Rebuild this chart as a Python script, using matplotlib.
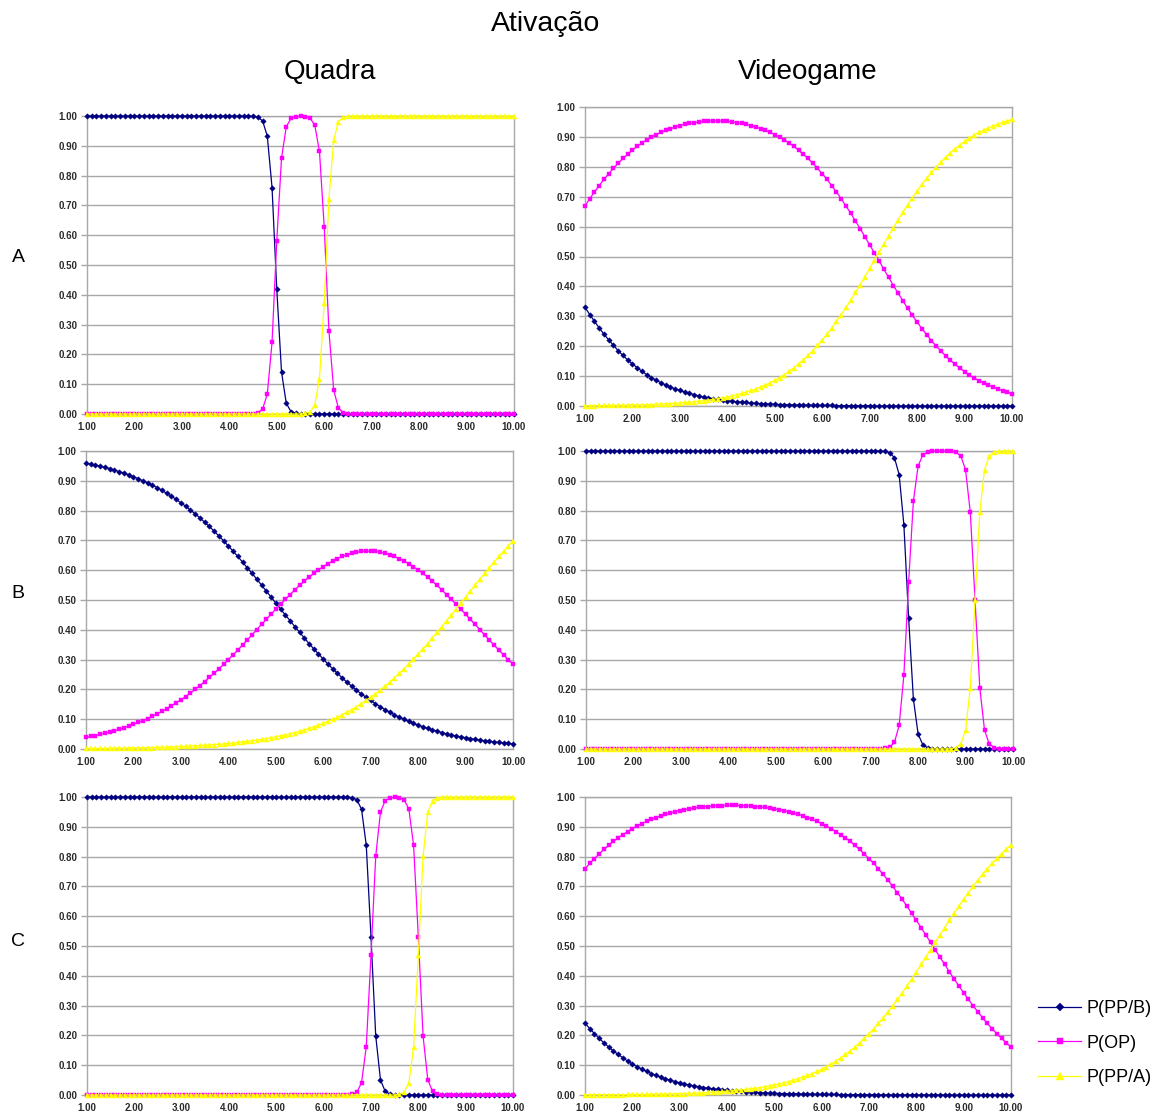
import matplotlib.pyplot as plt

plt.rcParams['font.family'] = ['Liberation Sans', 'DejaVu Sans']

# x categories (step 0.1)
x_vals = [1.0, 1.1, 1.2, 1.3, 1.4, 1.5, 1.6, 1.7, 1.8, 1.9,
          2.0, 2.1, 2.2, 2.3, 2.4, 2.5, 2.6, 2.7, 2.8, 2.9,
          3.0, 3.1, 3.2, 3.3, 3.4, 3.5, 3.6, 3.7, 3.8, 3.9,
          4.0, 4.1, 4.2, 4.3, 4.4, 4.5, 4.6, 4.7, 4.8, 4.9,
          5.0, 5.1, 5.2, 5.3, 5.4, 5.5, 5.6, 5.7, 5.8, 5.9,
          6.0, 6.1, 6.2, 6.3, 6.4, 6.5, 6.6, 6.7, 6.8, 6.9,
          7.0, 7.1, 7.2, 7.3, 7.4, 7.5, 7.6, 7.7, 7.8, 7.9,
          8.0, 8.1, 8.2, 8.3, 8.4, 8.5, 8.6, 8.7, 8.8, 8.9,
          9.0, 9.1, 9.2, 9.3, 9.4, 9.5, 9.6, 9.7, 9.8, 9.9,
          10.0]

x_ticks = [1, 2, 3, 4, 5, 6, 7, 8, 9, 10]
x_ticklabels = ['1.00', '2.00', '3.00', '4.00', '5.00', '6.00', '7.00', '8.00', '9.00', '10.00']
y_ticks = [0.0, 0.1, 0.2, 0.3, 0.4, 0.5, 0.6, 0.7, 0.8, 0.9, 1.0]
y_ticklabels = ['0.00', '0.10', '0.20', '0.30', '0.40', '0.50', '0.60', '0.70', '0.80', '0.90', '1.00']

series_names = ['P(PP/B)', 'P(OP)', 'P(PP/A)']
row_names = ['A', 'B', 'C']
col_names = ['Quadra', 'Videogame']

# ---- A / Quadra
aq_b = [1.0, 1.0, 1.0, 1.0, 1.0, 1.0, 1.0, 1.0, 1.0, 1.0,
        1.0, 1.0, 1.0, 1.0, 1.0, 1.0, 1.0, 1.0, 1.0, 1.0,
        1.0, 1.0, 1.0, 1.0, 1.0, 1.0, 1.0, 1.0, 1.0, 1.0,
        1.0, 1.0, 1.0, 1.0, 1.0, 0.999, 0.996, 0.984, 0.933, 0.760,
        0.418, 0.141, 0.036, 0.008, 0.002, 0.0, 0.0, 0.0, 0.0, 0.0,
        0.0, 0.0, 0.0, 0.0, 0.0, 0.0, 0.0, 0.0, 0.0, 0.0,
        0.0, 0.0, 0.0, 0.0, 0.0, 0.0, 0.0, 0.0, 0.0, 0.0,
        0.0, 0.0, 0.0, 0.0, 0.0, 0.0, 0.0, 0.0, 0.0, 0.0,
        0.0, 0.0, 0.0, 0.0, 0.0, 0.0, 0.0, 0.0, 0.0, 0.0,
        0.0]
aq_op = [0.0, 0.0, 0.0, 0.0, 0.0, 0.0, 0.0, 0.0, 0.0, 0.0,
         0.0, 0.0, 0.0, 0.0, 0.0, 0.0, 0.0, 0.0, 0.0, 0.0,
         0.0, 0.0, 0.0, 0.0, 0.0, 0.0, 0.0, 0.0, 0.0, 0.0,
         0.0, 0.0, 0.0, 0.0, 0.0, 0.001, 0.004, 0.016, 0.067, 0.240,
         0.582, 0.859, 0.964, 0.992, 0.998, 0.999, 0.998, 0.993, 0.970, 0.881,
         0.627, 0.277, 0.080, 0.020, 0.005, 0.001, 0.0, 0.0, 0.0, 0.0,
         0.0, 0.0, 0.0, 0.0, 0.0, 0.0, 0.0, 0.0, 0.0, 0.0,
         0.0, 0.0, 0.0, 0.0, 0.0, 0.0, 0.0, 0.0, 0.0, 0.0,
         0.0, 0.0, 0.0, 0.0, 0.0, 0.0, 0.0, 0.0, 0.0, 0.0,
         0.0]
aq_a = [0.0, 0.0, 0.0, 0.0, 0.0, 0.0, 0.0, 0.0, 0.0, 0.0,
        0.0, 0.0, 0.0, 0.0, 0.0, 0.0, 0.0, 0.0, 0.0, 0.0,
        0.0, 0.0, 0.0, 0.0, 0.0, 0.0, 0.0, 0.0, 0.0, 0.0,
        0.0, 0.0, 0.0, 0.0, 0.0, 0.0, 0.0, 0.0, 0.0, 0.0,
        0.0, 0.0, 0.0, 0.0, 0.0, 0.0, 0.002, 0.007, 0.030, 0.119,
        0.373, 0.723, 0.920, 0.981, 0.996, 0.999, 1.0, 1.0, 1.0, 1.0,
        1.0, 1.0, 1.0, 1.0, 1.0, 1.0, 1.0, 1.0, 1.0, 1.0,
        1.0, 1.0, 1.0, 1.0, 1.0, 1.0, 1.0, 1.0, 1.0, 1.0,
        1.0, 1.0, 1.0, 1.0, 1.0, 1.0, 1.0, 1.0, 1.0, 1.0,
        1.0]

# ---- A / Videogame
av_b = [0.330, 0.306, 0.283, 0.261, 0.240, 0.221, 0.203, 0.185, 0.169, 0.154,
        0.141, 0.128, 0.116, 0.105, 0.095, 0.086, 0.078, 0.070, 0.064, 0.057,
        0.052, 0.047, 0.042, 0.038, 0.034, 0.030, 0.027, 0.025, 0.022, 0.020,
        0.018, 0.016, 0.014, 0.013, 0.012, 0.010, 0.009, 0.008, 0.007, 0.007,
        0.006, 0.005, 0.005, 0.004, 0.004, 0.003, 0.003, 0.003, 0.002, 0.002,
        0.002, 0.002, 0.002, 0.001, 0.001, 0.001, 0.001, 0.001, 0.001, 0.001,
        0.001, 0.0, 0.0, 0.0, 0.0, 0.0, 0.0, 0.0, 0.0, 0.0,
        0.0, 0.0, 0.0, 0.0, 0.0, 0.0, 0.0, 0.0, 0.0, 0.0,
        0.0, 0.0, 0.0, 0.0, 0.0, 0.0, 0.0, 0.0, 0.0, 0.0,
        0.0]
av_op = [0.669, 0.693, 0.716, 0.737, 0.758, 0.777, 0.795, 0.812, 0.828, 0.842,
         0.856, 0.868, 0.880, 0.890, 0.899, 0.908, 0.915, 0.922, 0.928, 0.933,
         0.938, 0.942, 0.945, 0.948, 0.950, 0.952, 0.953, 0.953, 0.953, 0.953,
         0.952, 0.950, 0.948, 0.945, 0.942, 0.938, 0.933, 0.928, 0.922, 0.915,
         0.908, 0.899, 0.890, 0.880, 0.868, 0.856, 0.842, 0.828, 0.812, 0.795,
         0.777, 0.758, 0.737, 0.716, 0.693, 0.669, 0.645, 0.619, 0.593, 0.566,
         0.539, 0.512, 0.485, 0.457, 0.430, 0.403, 0.377, 0.352, 0.327, 0.303,
         0.281, 0.259, 0.239, 0.219, 0.201, 0.184, 0.168, 0.153, 0.139, 0.127,
         0.115, 0.104, 0.094, 0.085, 0.077, 0.070, 0.063, 0.057, 0.051, 0.046,
         0.041]
av_a = [0.001, 0.001, 0.001, 0.002, 0.002, 0.002, 0.002, 0.003, 0.003, 0.003,
        0.004, 0.004, 0.004, 0.005, 0.005, 0.006, 0.007, 0.008, 0.008, 0.009,
        0.010, 0.012, 0.013, 0.014, 0.016, 0.018, 0.020, 0.022, 0.025, 0.027,
        0.030, 0.034, 0.038, 0.042, 0.047, 0.052, 0.057, 0.064, 0.070, 0.078,
        0.086, 0.095, 0.105, 0.116, 0.128, 0.141, 0.154, 0.169, 0.185, 0.203,
        0.221, 0.240, 0.261, 0.283, 0.306, 0.330, 0.354, 0.380, 0.406, 0.433,
        0.460, 0.488, 0.515, 0.542, 0.570, 0.596, 0.623, 0.648, 0.673, 0.696,
        0.719, 0.741, 0.761, 0.781, 0.799, 0.816, 0.832, 0.847, 0.861, 0.873,
        0.885, 0.896, 0.906, 0.915, 0.923, 0.930, 0.937, 0.943, 0.949, 0.954,
        0.959]

# ---- B / Quadra
bq_b = [0.959, 0.956, 0.953, 0.949, 0.945, 0.941, 0.936, 0.931, 0.926, 0.920,
        0.914, 0.907, 0.900, 0.893, 0.885, 0.877, 0.868, 0.858, 0.848, 0.838,
        0.826, 0.815, 0.802, 0.789, 0.776, 0.761, 0.747, 0.731, 0.715, 0.699,
        0.681, 0.664, 0.646, 0.627, 0.608, 0.589, 0.570, 0.550, 0.530, 0.510,
        0.490, 0.470, 0.450, 0.431, 0.411, 0.392, 0.373, 0.354, 0.336, 0.319,
        0.302, 0.285, 0.269, 0.254, 0.239, 0.224, 0.211, 0.198, 0.185, 0.174,
        0.163, 0.152, 0.142, 0.132, 0.124, 0.115, 0.107, 0.100, 0.093, 0.086,
        0.080, 0.075, 0.069, 0.064, 0.060, 0.055, 0.051, 0.047, 0.044, 0.041,
        0.038, 0.035, 0.032, 0.030, 0.028, 0.026, 0.024, 0.022, 0.020, 0.019,
        0.017]
bq_op = [0.039, 0.042, 0.045, 0.049, 0.053, 0.057, 0.061, 0.066, 0.071, 0.077,
         0.083, 0.089, 0.095, 0.102, 0.110, 0.118, 0.126, 0.135, 0.145, 0.155,
         0.165, 0.176, 0.188, 0.200, 0.213, 0.226, 0.240, 0.254, 0.269, 0.284,
         0.300, 0.316, 0.332, 0.349, 0.366, 0.383, 0.401, 0.418, 0.435, 0.452,
         0.469, 0.486, 0.502, 0.518, 0.534, 0.549, 0.563, 0.577, 0.589, 0.601,
         0.612, 0.622, 0.631, 0.639, 0.646, 0.652, 0.657, 0.660, 0.663, 0.664,
         0.664, 0.663, 0.660, 0.657, 0.652, 0.646, 0.639, 0.631, 0.622, 0.612,
         0.601, 0.589, 0.577, 0.563, 0.549, 0.534, 0.518, 0.502, 0.486, 0.469,
         0.452, 0.435, 0.418, 0.401, 0.383, 0.366, 0.349, 0.332, 0.316, 0.300,
         0.284]
bq_a = [0.002, 0.002, 0.002, 0.002, 0.002, 0.003, 0.003, 0.003, 0.003, 0.004,
        0.004, 0.004, 0.005, 0.005, 0.005, 0.006, 0.006, 0.007, 0.007, 0.008,
        0.009, 0.009, 0.010, 0.011, 0.012, 0.013, 0.014, 0.015, 0.016, 0.017,
        0.019, 0.020, 0.022, 0.024, 0.026, 0.028, 0.030, 0.032, 0.035, 0.038,
        0.041, 0.044, 0.047, 0.051, 0.055, 0.060, 0.064, 0.069, 0.075, 0.080,
        0.086, 0.093, 0.100, 0.107, 0.115, 0.124, 0.132, 0.142, 0.152, 0.163,
        0.174, 0.185, 0.198, 0.211, 0.224, 0.239, 0.254, 0.269, 0.285, 0.302,
        0.319, 0.336, 0.354, 0.373, 0.392, 0.411, 0.431, 0.450, 0.470, 0.490,
        0.510, 0.530, 0.550, 0.570, 0.589, 0.608, 0.627, 0.646, 0.664, 0.681,
        0.699]

# ---- B / Videogame
bv_b = [1.0, 1.0, 1.0, 1.0, 1.0, 1.0, 1.0, 1.0, 1.0, 1.0,
        1.0, 1.0, 1.0, 1.0, 1.0, 1.0, 1.0, 1.0, 1.0, 1.0,
        1.0, 1.0, 1.0, 1.0, 1.0, 1.0, 1.0, 1.0, 1.0, 1.0,
        1.0, 1.0, 1.0, 1.0, 1.0, 1.0, 1.0, 1.0, 1.0, 1.0,
        1.0, 1.0, 1.0, 1.0, 1.0, 1.0, 1.0, 1.0, 1.0, 1.0,
        1.0, 1.0, 1.0, 1.0, 1.0, 1.0, 1.0, 1.0, 1.0, 1.0,
        1.0, 1.0, 1.0, 0.999, 0.994, 0.978, 0.921, 0.752, 0.440, 0.169,
        0.050, 0.014, 0.004, 0.001, 0.0, 0.0, 0.0, 0.0, 0.0, 0.0,
        0.0, 0.0, 0.0, 0.0, 0.0, 0.0, 0.0, 0.0, 0.0, 0.0,
        0.0]
bv_op = [0.0, 0.0, 0.0, 0.0, 0.0, 0.0, 0.0, 0.0, 0.0, 0.0,
         0.0, 0.0, 0.0, 0.0, 0.0, 0.0, 0.0, 0.0, 0.0, 0.0,
         0.0, 0.0, 0.0, 0.0, 0.0, 0.0, 0.0, 0.0, 0.0, 0.0,
         0.0, 0.0, 0.0, 0.0, 0.0, 0.0, 0.0, 0.0, 0.0, 0.0,
         0.0, 0.0, 0.0, 0.0, 0.0, 0.0, 0.0, 0.0, 0.0, 0.0,
         0.0, 0.0, 0.0, 0.0, 0.0, 0.0, 0.0, 0.0, 0.0, 0.0,
         0.0, 0.0, 0.0, 0.002, 0.006, 0.022, 0.079, 0.248, 0.560, 0.831,
         0.950, 0.987, 0.996, 0.999, 1.0, 1.0, 1.0, 0.999, 0.996, 0.983,
         0.937, 0.794, 0.500, 0.206, 0.063, 0.017, 0.005, 0.001, 0.0, 0.0,
         0.0]
bv_a = [0.0, 0.0, 0.0, 0.0, 0.0, 0.0, 0.0, 0.0, 0.0, 0.0,
        0.0, 0.0, 0.0, 0.0, 0.0, 0.0, 0.0, 0.0, 0.0, 0.0,
        0.0, 0.0, 0.0, 0.0, 0.0, 0.0, 0.0, 0.0, 0.0, 0.0,
        0.0, 0.0, 0.0, 0.0, 0.0, 0.0, 0.0, 0.0, 0.0, 0.0,
        0.0, 0.0, 0.0, 0.0, 0.0, 0.0, 0.0, 0.0, 0.0, 0.0,
        0.0, 0.0, 0.0, 0.0, 0.0, 0.0, 0.0, 0.0, 0.0, 0.0,
        0.0, 0.0, 0.0, 0.0, 0.0, 0.0, 0.0, 0.0, 0.0, 0.0,
        0.0, 0.0, 0.0, 0.0, 0.0, 0.0, 0.0, 0.001, 0.005, 0.017,
        0.063, 0.206, 0.500, 0.794, 0.937, 0.983, 0.996, 0.999, 1.0, 1.0,
        1.0]

# ---- C / Quadra
cq_b = [1.0, 1.0, 1.0, 1.0, 1.0, 1.0, 1.0, 1.0, 1.0, 1.0,
        1.0, 1.0, 1.0, 1.0, 1.0, 1.0, 1.0, 1.0, 1.0, 1.0,
        1.0, 1.0, 1.0, 1.0, 1.0, 1.0, 1.0, 1.0, 1.0, 1.0,
        1.0, 1.0, 1.0, 1.0, 1.0, 1.0, 1.0, 1.0, 1.0, 1.0,
        1.0, 1.0, 1.0, 1.0, 1.0, 1.0, 1.0, 1.0, 1.0, 1.0,
        1.0, 1.0, 1.0, 1.0, 1.0, 1.0, 0.998, 0.991, 0.959, 0.838,
        0.530, 0.198, 0.051, 0.012, 0.003, 0.001, 0.0, 0.0, 0.0, 0.0,
        0.0, 0.0, 0.0, 0.0, 0.0, 0.0, 0.0, 0.0, 0.0, 0.0,
        0.0, 0.0, 0.0, 0.0, 0.0, 0.0, 0.0, 0.0, 0.0, 0.0,
        0.0]
cq_op = [0.0, 0.0, 0.0, 0.0, 0.0, 0.0, 0.0, 0.0, 0.0, 0.0,
         0.0, 0.0, 0.0, 0.0, 0.0, 0.0, 0.0, 0.0, 0.0, 0.0,
         0.0, 0.0, 0.0, 0.0, 0.0, 0.0, 0.0, 0.0, 0.0, 0.0,
         0.0, 0.0, 0.0, 0.0, 0.0, 0.0, 0.0, 0.0, 0.0, 0.0,
         0.0, 0.0, 0.0, 0.0, 0.0, 0.0, 0.0, 0.0, 0.0, 0.0,
         0.0, 0.0, 0.0, 0.0, 0.0, 0.0, 0.002, 0.009, 0.041, 0.162,
         0.470, 0.802, 0.949, 0.988, 0.997, 0.999, 0.998, 0.991, 0.959, 0.838,
         0.530, 0.198, 0.051, 0.012, 0.003, 0.001, 0.0, 0.0, 0.0, 0.0,
         0.0, 0.0, 0.0, 0.0, 0.0, 0.0, 0.0, 0.0, 0.0, 0.0,
         0.0]
cq_a = [0.0, 0.0, 0.0, 0.0, 0.0, 0.0, 0.0, 0.0, 0.0, 0.0,
        0.0, 0.0, 0.0, 0.0, 0.0, 0.0, 0.0, 0.0, 0.0, 0.0,
        0.0, 0.0, 0.0, 0.0, 0.0, 0.0, 0.0, 0.0, 0.0, 0.0,
        0.0, 0.0, 0.0, 0.0, 0.0, 0.0, 0.0, 0.0, 0.0, 0.0,
        0.0, 0.0, 0.0, 0.0, 0.0, 0.0, 0.0, 0.0, 0.0, 0.0,
        0.0, 0.0, 0.0, 0.0, 0.0, 0.0, 0.0, 0.0, 0.0, 0.0,
        0.0, 0.0, 0.0, 0.0, 0.0, 0.0, 0.002, 0.009, 0.041, 0.162,
        0.470, 0.802, 0.949, 0.988, 0.997, 0.999, 1.0, 1.0, 1.0, 1.0,
        1.0, 1.0, 1.0, 1.0, 1.0, 1.0, 1.0, 1.0, 1.0, 1.0,
        1.0]

# ---- C / Videogame
cv_b = [0.241, 0.223, 0.206, 0.190, 0.175, 0.161, 0.148, 0.136, 0.125, 0.114,
        0.104, 0.095, 0.087, 0.079, 0.072, 0.066, 0.060, 0.055, 0.050, 0.045,
        0.041, 0.037, 0.034, 0.031, 0.028, 0.025, 0.023, 0.021, 0.019, 0.017,
        0.016, 0.014, 0.013, 0.012, 0.011, 0.010, 0.009, 0.008, 0.007, 0.006,
        0.006, 0.005, 0.005, 0.004, 0.004, 0.004, 0.003, 0.003, 0.003, 0.002,
        0.002, 0.002, 0.002, 0.002, 0.001, 0.001, 0.001, 0.001, 0.001, 0.001,
        0.001, 0.001, 0.001, 0.0, 0.0, 0.0, 0.0, 0.0, 0.0, 0.0,
        0.0, 0.0, 0.0, 0.0, 0.0, 0.0, 0.0, 0.0, 0.0, 0.0,
        0.0, 0.0, 0.0, 0.0, 0.0, 0.0, 0.0, 0.0, 0.0, 0.0,
        0.0]
cv_op = [0.759, 0.777, 0.793, 0.809, 0.824, 0.838, 0.851, 0.863, 0.874, 0.884,
         0.894, 0.903, 0.911, 0.918, 0.925, 0.931, 0.937, 0.942, 0.946, 0.951,
         0.954, 0.958, 0.960, 0.963, 0.965, 0.967, 0.968, 0.970, 0.971, 0.971,
         0.972, 0.972, 0.972, 0.971, 0.971, 0.970, 0.968, 0.967, 0.965, 0.963,
         0.960, 0.958, 0.954, 0.951, 0.946, 0.942, 0.937, 0.931, 0.925, 0.918,
         0.911, 0.903, 0.894, 0.884, 0.874, 0.863, 0.851, 0.838, 0.824, 0.809,
         0.793, 0.777, 0.759, 0.740, 0.721, 0.700, 0.679, 0.657, 0.634, 0.610,
         0.586, 0.562, 0.537, 0.512, 0.487, 0.462, 0.438, 0.413, 0.389, 0.366,
         0.343, 0.321, 0.299, 0.279, 0.259, 0.240, 0.223, 0.206, 0.190, 0.175,
         0.161]
cv_a = [0.001, 0.001, 0.001, 0.001, 0.001, 0.001, 0.001, 0.001, 0.001, 0.002,
        0.002, 0.002, 0.002, 0.002, 0.003, 0.003, 0.003, 0.004, 0.004, 0.004,
        0.005, 0.005, 0.006, 0.006, 0.007, 0.008, 0.009, 0.010, 0.011, 0.012,
        0.013, 0.014, 0.016, 0.017, 0.019, 0.021, 0.023, 0.025, 0.028, 0.031,
        0.034, 0.037, 0.041, 0.045, 0.050, 0.055, 0.060, 0.066, 0.072, 0.079,
        0.087, 0.095, 0.104, 0.114, 0.125, 0.136, 0.148, 0.161, 0.175, 0.190,
        0.206, 0.223, 0.241, 0.259, 0.279, 0.299, 0.321, 0.343, 0.366, 0.389,
        0.413, 0.438, 0.463, 0.488, 0.513, 0.537, 0.562, 0.587, 0.611, 0.634,
        0.657, 0.679, 0.701, 0.721, 0.741, 0.760, 0.777, 0.794, 0.810, 0.825,
        0.839]

W, H = 1164, 1115
fig = plt.figure(figsize=(W / 100, H / 100), dpi=100)

# plot areas in pixels: left, top, right, bottom
boxes = [
    [(87, 116, 514, 414), (585, 107, 1012, 406)],
    [(86, 451, 513, 749), (586, 451, 1013, 749)],
    [(87, 797, 513, 1095), (585, 797, 1011, 1095)],
]
panels = [
    [(aq_b, aq_op, aq_a), (av_b, av_op, av_a)],
    [(bq_b, bq_op, bq_a), (bv_b, bv_op, bv_a)],
    [(cq_b, cq_op, cq_a), (cv_b, cv_op, cv_a)],
]

colors = ['#000080', '#FF00FF', '#FFFF00']
markers = ['D', 's', '^']
msizes = [2.8, 3.3, 3.6]
grid_col = '#a8a8a8'

handles = None
for r in range(3):
    for c in range(2):
        l, t, rr, b = boxes[r][c]
        ax = fig.add_axes([l / W, 1 - b / H, (rr - l) / W, (b - t) / H])
        lines = []
        for s in range(3):
            ln, = ax.plot(x_vals, panels[r][c][s], color=colors[s], marker=markers[s],
                          markersize=msizes[s], markeredgewidth=0.3, lw=0.9,
                          clip_on=False, label=series_names[s], zorder=3 + s)
            lines.append(ln)
        handles = lines
        ax.set_xlim(1, 10)
        ax.set_ylim(0, 1)
        ax.set_xticks(x_ticks)
        ax.set_xticklabels(x_ticklabels)
        ax.set_yticks(y_ticks)
        ax.set_yticklabels(y_ticklabels)
        ax.yaxis.grid(True, color=grid_col, lw=1.0)
        ax.set_axisbelow(True)
        for sp in ax.spines.values():
            sp.set_color(grid_col)
            sp.set_linewidth(1.0)
        ax.tick_params(axis='y', length=4, width=1.0, color=grid_col, pad=3,
                       labelsize=7, labelcolor='#2a2a2a')
        ax.tick_params(axis='x', length=0, pad=6, labelsize=7, labelcolor='#2a2a2a')
        for lbl in ax.get_xticklabels() + ax.get_yticklabels():
            lbl.set_fontweight('bold')

# titles
fig.text(546 / W, 1 - 31 / H, 'Ativação', ha='center', va='baseline', fontsize=20.5)
fig.text(330 / W, 1 - 79 / H, col_names[0], ha='center', va='baseline', fontsize=20)
fig.text(808 / W, 1 - 79 / H, col_names[1], ha='center', va='baseline', fontsize=20)
row_y = [257, 594, 941]
for name, y in zip(row_names, row_y):
    fig.text(18 / W, 1 - y / H, name, ha='center', va='center', fontsize=14)

fig.legend(handles, series_names, loc='upper left',
           bbox_to_anchor=(1038 / W, 1 - 1000 / H), frameon=False,
           fontsize=13, handlelength=2.4, handletextpad=0.3, markerscale=1.5,
           labelspacing=0.97, borderpad=0, borderaxespad=0)

fig.savefig('out.png', dpi=100)
